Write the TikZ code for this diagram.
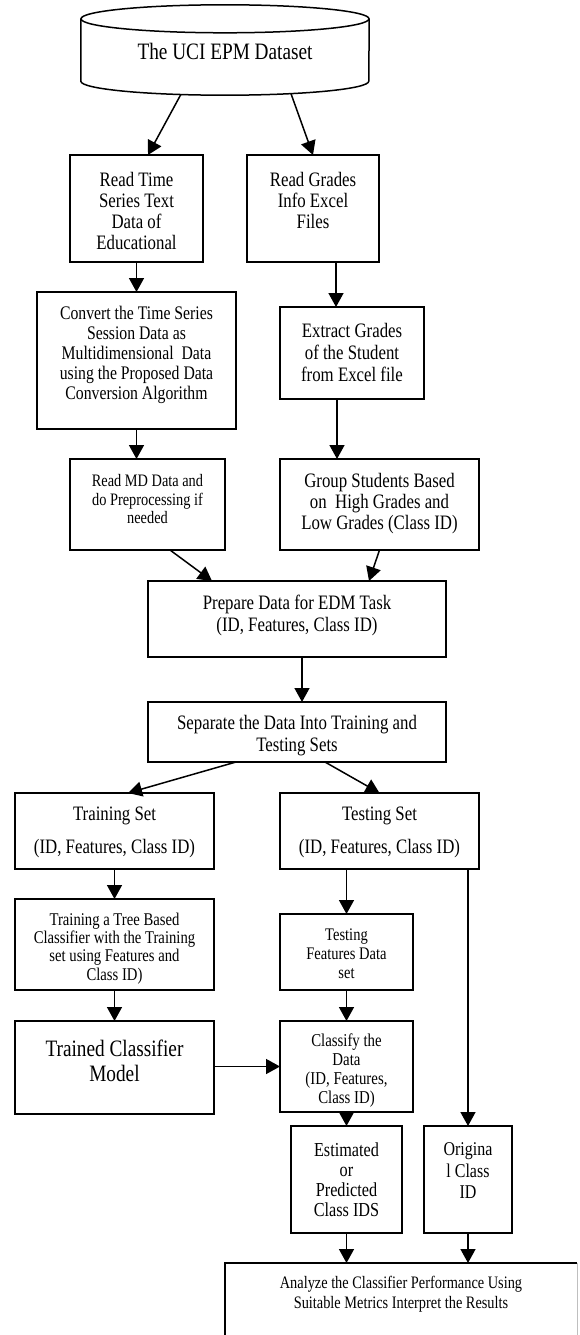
\documentclass[tikz,border=0pt]{standalone}
\usepackage{fontspec}
\setmainfont{Liberation Serif}[FakeStretch=0.82]
\usetikzlibrary{arrows.meta}
\tikzset{
  box/.style={draw, line width=1.5pt, inner sep=0pt, outer sep=0pt},
  txt/.style={align=center, inner sep=0pt, font=\fontsize{20.5}{21}\selectfont},
  txts/.style={align=center, inner sep=0pt, font=\fontsize{17.5}{18.5}\selectfont},
  arr/.style={line width=1.5pt, -{Triangle[length=14pt,width=15pt]}},
}
\begin{document}
\begin{tikzpicture}[x=1pt,y=-1pt]
\useasboundingbox (0,0) rectangle (579,1335);

% dataset cylinder
\node[inner sep=0pt, minimum width=288pt, minimum height=90pt] (ds) at (225,50) {};
\draw[line width=1.5pt] ([yshift=-14pt]ds.north west) -- ([yshift=14pt]ds.south west)
  arc[start angle=180, end angle=360, x radius=144pt, y radius=14pt]
  -- ([yshift=-14pt]ds.north east);
\draw[line width=1.5pt] ([yshift=-14pt]ds.north) ellipse [x radius=144pt, y radius=14pt];
\node[txt, font=\fontsize{23.5}{26}\selectfont] (dst) at (225,51) {The UCI EPM Dataset};

% boxes
\node[box, minimum width=133pt, minimum height=107pt] (rt) at (136.5,208.5) {};
\node[box, minimum width=132pt, minimum height=107pt] (rg) at (313,208.5) {};
\node[box, minimum width=199pt, minimum height=137pt] (cv) at (136.5,360.5) {};
\node[box, minimum width=144pt, minimum height=92pt] (ex) at (352,353) {};
\node[box, minimum width=155pt, minimum height=91pt] (md) at (147.5,504.5) {};
\node[box, minimum width=199pt, minimum height=91pt] (gs) at (379.5,504.5) {};
\node[box, minimum width=298pt, minimum height=76pt] (pr) at (297,619) {};
\node[box, minimum width=298pt, minimum height=60pt] (sp) at (297,732) {};
\node[box, minimum width=199pt, minimum height=76pt] (trs) at (114.5,831) {};
\node[box, minimum width=199pt, minimum height=76pt] (tss) at (379.5,831) {};
\node[box, minimum width=199pt, minimum height=91pt] (tt) at (114.5,944.5) {};
\node[box, minimum width=133pt, minimum height=76pt] (tf) at (346.5,952) {};
\node[box, minimum width=199pt, minimum height=93pt] (tc) at (114.5,1067.5) {};
\node[box, minimum width=133pt, minimum height=91pt] (cl) at (346.5,1066.5) {};
\node[box, minimum width=111pt, minimum height=107pt] (est) at (346.5,1179.5) {};
\node[box, minimum width=88pt, minimum height=107pt] (org) at (468,1179.5) {};
\node[inner sep=0pt, outer sep=0pt, minimum width=352pt, minimum height=72pt] (an) at (401,1299) {};
\draw[line width=1.5pt] (an.south west) -- (an.north west) -- (an.north east);
\draw[line width=1pt, black!25] (an.north east) -- (an.south east);

% texts
\node[txt] (rtt) at (136.5,211) {Read Time\\Series Text\\Data of\\Educational};
\node[txt] (rgt) at (313,200) {Read Grades\\Info Excel\\Files};
\node[txt, font=\fontsize{19.2}{20}\selectfont] (cvt) at (136.5,355) {Convert the Time Series\\Session Data as\\Multidimensional\ \ Data\\using the Proposed Data\\Conversion Algorithm};
\node[txt, font=\fontsize{20.5}{22}\selectfont] (ext) at (352,352) {Extract Grades\\of the Student\\from Excel file};
\node[txts] (mdt) at (147.5,499.5) {Read MD Data and\\do Preprocessing if\\needed};
\node[txt] (gst) at (379.5,504) {Group Students Based\\on\ \ High Grades and\\Low Grades (Class ID)};
\node[txt, font=\fontsize{20.5}{22}\selectfont] (prt) at (297,615) {Prepare Data for EDM Task\\(ID, Features, Class ID)};
\node[txt, font=\fontsize{20.5}{22}\selectfont] (spt) at (297,736) {Separate the Data Into Training and\\Testing Sets};
\node[txt, font=\fontsize{20.5}{33}\selectfont] (trst) at (114.5,832) {Training Set\\(ID, Features, Class ID)};
\node[txt, font=\fontsize{20.5}{33}\selectfont] (tsst) at (379.5,832) {Testing Set\\(ID, Features, Class ID)};
\node[txt, font=\fontsize{17.9}{18.3}\selectfont] (ttt) at (114.5,948.5) {Training a Tree Based\\Classifier with the Training\\set using Features and\\Class ID)};
\node[txt, font=\fontsize{17.7}{19}\selectfont] (tft) at (346.5,954) {Testing\\Features Data\\set};
\node[txt, font=\fontsize{23.5}{25}\selectfont] (tct) at (114.5,1060.5) {Trained Classifier\\Model};
\node[txt, font=\fontsize{18.1}{18.7}\selectfont] (clt) at (346.5,1070.5) {Classify the\\Data\\(ID, Features,\\Class ID)};
\node[txt, font=\fontsize{19.8}{20}\selectfont] (estt) at (346.5,1180) {Estimated\\or\\Predicted\\Class IDS};
\node[txt, font=\fontsize{19.5}{21.5}\selectfont] (orgt) at (468,1171) {Origina\\l Class\\ID};
\node[txt, font=\fontsize{17.5}{20}\selectfont] (ant) at (401,1294) {Analyze the Classifier Performance Using\\Suitable Metrics Interpret the Results};

% connectors
\draw[arr] ([xshift=-44pt,yshift=1pt]ds.south) -- ([xshift=11.5pt]rt.north);
\draw[arr] ([xshift=66pt,yshift=1.5pt]ds.south) -- (rg.north);
\draw[arr] (rt.south) -- (cv.north);
\draw[arr] ([xshift=23pt]rg.south) -- ([xshift=23pt]rg.south |- ex.north);
\draw[arr] (cv.south) -- (cv.south |- md.north);
\draw[arr] ([xshift=-15pt]ex.south) -- ([xshift=-15pt]ex.south |- gs.north);
\draw[arr] ([xshift=22.5pt]md.south) -- ([xshift=-85pt]pr.north);
\draw[arr] (gs.south) -- ([xshift=72pt]pr.north);
\draw[arr] ([xshift=5pt]pr.south) -- ([xshift=5pt]sp.north);
\draw[arr] ([xshift=-61pt]sp.south) -- ([xshift=13.5pt]trs.north);
\draw[arr] ([xshift=28pt]sp.south) -- (tss.north);
\draw[arr] (trs.south) -- (tt.north);
\draw[arr] (tf.north |- tss.south) -- (tf.north);
\draw[arr] (org.north |- tss.south) -- (org.north);
\draw[arr] (tt.south) -- (tc.north);
\draw[arr] (tf.south) -- (cl.north);
\draw[arr] (tc.east |- cl.west) -- (cl.west);
\draw[arr] (cl.south) -- (est.north);
\draw[arr] (est.south) -- (est.south |- an.north);
\draw[arr] (org.south) -- (org.south |- an.north);
\end{tikzpicture}
\end{document}
